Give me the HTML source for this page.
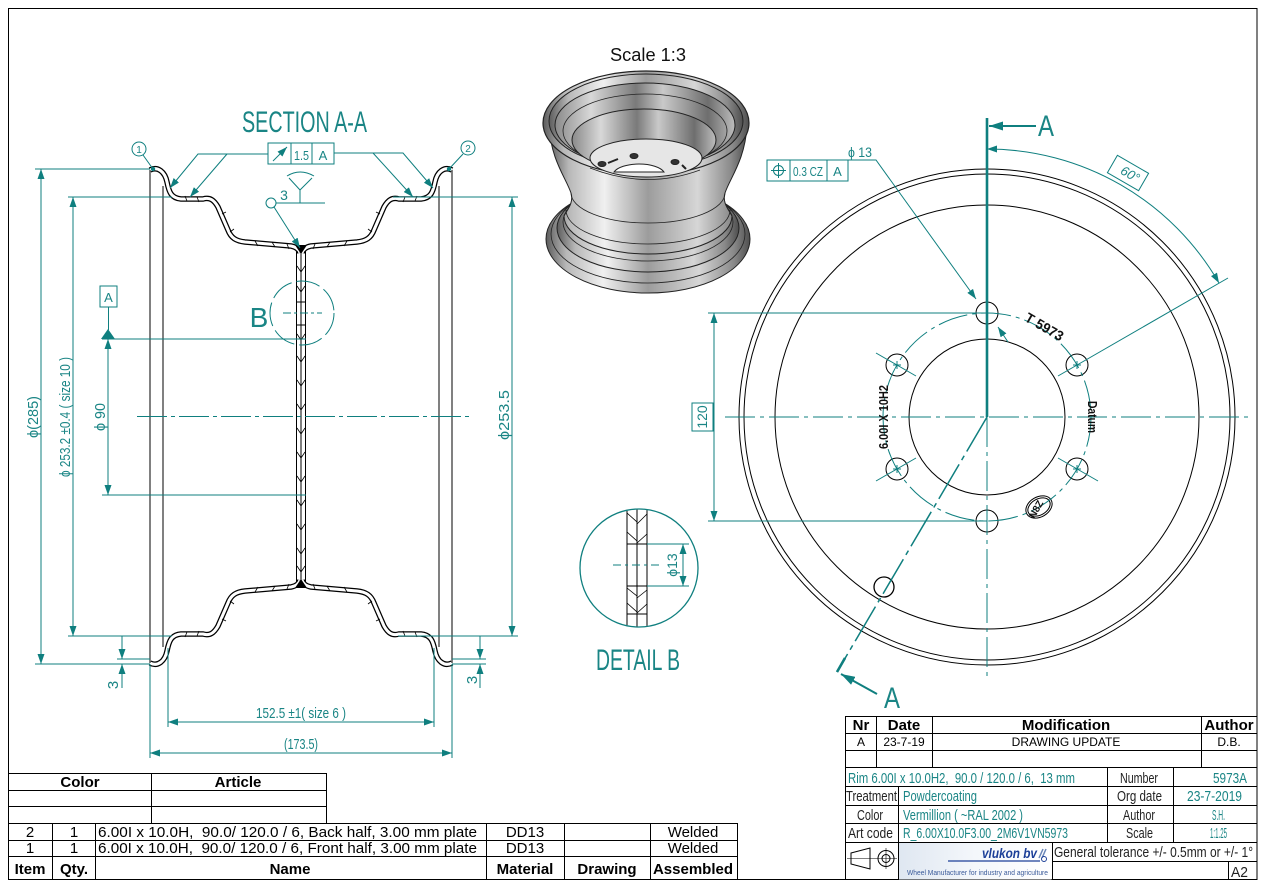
<!DOCTYPE html>
<html><head><meta charset="utf-8"><style>
html,body{margin:0;padding:0;background:#fff;}
svg{display:block;}
</style></head><body>
<svg width="1270" height="892" viewBox="0 0 1270 892" xmlns="http://www.w3.org/2000/svg" font-family="Liberation Sans, DejaVu Sans, sans-serif">
<defs>
<marker id="ar" viewBox="0 0 10 7" refX="10" refY="3.5" markerWidth="10" markerHeight="7" markerUnits="userSpaceOnUse" orient="auto-start-reverse"><path d="M0,0L10,3.5L0,7z" fill="#0f7f7f"/></marker>
<marker id="arB" viewBox="0 0 14 9" refX="14" refY="4.5" markerWidth="14" markerHeight="9" markerUnits="userSpaceOnUse" orient="auto-start-reverse"><path d="M0,0L14,4.5L0,9z" fill="#0f7f7f"/></marker>
<linearGradient id="met" x1="0" x2="1" y1="0" y2="0">
 <stop offset="0" stop-color="#5c5c5c"/><stop offset="0.1" stop-color="#b8b8b8"/><stop offset="0.28" stop-color="#f0f0f0"/><stop offset="0.5" stop-color="#9c9c9c"/><stop offset="0.75" stop-color="#d6d6d6"/><stop offset="0.92" stop-color="#8a8a8a"/><stop offset="1" stop-color="#4e4e4e"/>
</linearGradient>
<linearGradient id="inn" x1="0" x2="1" y1="0" y2="0">
 <stop offset="0" stop-color="#8a8a8a"/><stop offset="0.2" stop-color="#d8d8d8"/><stop offset="0.45" stop-color="#7a7a7a"/><stop offset="0.6" stop-color="#c9c9c9"/><stop offset="0.85" stop-color="#6e6e6e"/><stop offset="1" stop-color="#bdbdbd"/>
</linearGradient>
<linearGradient id="logo" x1="0" x2="1" y1="0" y2="0">
 <stop offset="0" stop-color="#dfe7f1"/><stop offset="0.5" stop-color="#f4f7fb"/><stop offset="1" stop-color="#ffffff"/>
</linearGradient>
<clipPath id="detc"><circle cx="639" cy="568" r="58.5"/></clipPath>
<path id="prof" d="M150,170 C158,166 165,172 167,182 C169,192 171,198 181,199 L203,199 C210,197 214,200 218,207 L228,230 C231,238 236,241 245,242 L291,246 C296,247 299,249 300,253" fill="none"/>
</defs>

<!-- frame -->
<rect x="8.5" y="8.5" width="1248.5" height="871" fill="none" stroke="#000" stroke-width="1"/>

<!-- ================= SECTION A-A ================= -->
<text x="242" y="132" font-size="30" fill="#1a8585" textLength="125" lengthAdjust="spacingAndGlyphs">SECTION A-A</text>

<!-- profiles -->
<g id="profg">
 <use href="#prof" stroke="#000" stroke-width="5.5"/>
 <use href="#prof" stroke="#fff" stroke-width="3"/>
</g>
<use href="#profg" transform="translate(602,0) scale(-1,1)"/>
<use href="#profg" transform="translate(0,833) scale(1,-1)"/>
<use href="#profg" transform="translate(602,833) scale(-1,-1)"/>

<g stroke="#000" stroke-width="1" fill="none">
 <line x1="150" y1="170" x2="150" y2="663"/>
 <line x1="163" y1="186" x2="163" y2="647"/>
 <line x1="439" y1="186" x2="439" y2="647"/>
 <line x1="452" y1="170" x2="452" y2="663"/>
 <line x1="296.5" y1="251" x2="296.5" y2="582"/>
 <line x1="301" y1="253" x2="301" y2="580"/>
 <line x1="305.5" y1="251" x2="305.5" y2="582"/>
 <line x1="296.5" y1="302" x2="305.5" y2="302"/>
 <line x1="296.5" y1="325" x2="305.5" y2="325"/>
 <path stroke-width="0.8" d="M297,266 L301,272 L305,266 M297,286 L301,292 L305,286 M297,334 L301,340 L305,334 M297,356 L301,362 L305,356 M297,380 L301,386 L305,380 M297,404 L301,410 L305,404 M297,428 L301,434 L305,428 M297,452 L301,458 L305,452 M297,476 L301,482 L305,476 M297,500 L301,506 L305,500 M297,524 L301,530 L305,524 M297,548 L301,554 L305,548 M297,566 L301,572 L305,566"/>
 <path stroke-width="0.8" d="M255,241 l3,5 M272,242 l3,5 M287,244 l2,5 M347,241 l-3,5 M330,242 l-3,5 M315,244 l-2,5 M222,214 l4,-2 M230,232 l4,-3 M185,196 l2,5 M197,197 l2,5 M417,196 l-2,5 M405,197 l-2,5 M380,214 l-4,-2 M372,232 l-4,-3 M255,592 l3,-5 M272,591 l3,-5 M287,589 l2,-5 M347,592 l-3,-5 M330,591 l-3,-5 M315,589 l-2,-5 M185,637 l2,-5 M197,636 l2,-5 M417,637 l-2,-5 M405,636 l-2,-5 M222,619 l4,2 M230,601 l4,3 M380,619 l-4,2 M372,601 l-4,3"/>
</g>
<polygon points="295,245 307,245 301,254" fill="#000"/>
<polygon points="295,588 307,588 301,579" fill="#000"/>

<!-- section dims -->
<g stroke="#0f7f7f" stroke-width="1" fill="none">
 <line x1="35" y1="169" x2="150" y2="169"/>
 <line x1="68" y1="197" x2="172" y2="197"/>
 <line x1="68" y1="636" x2="172" y2="636"/>
 <line x1="35" y1="664" x2="150" y2="664"/>
 <line x1="117" y1="659" x2="150" y2="659"/>
 <line x1="41" y1="169" x2="41" y2="664" marker-start="url(#ar)" marker-end="url(#ar)"/>
 <line x1="73" y1="197" x2="73" y2="636" marker-start="url(#ar)" marker-end="url(#ar)"/>
 <rect x="100" y="286" width="17" height="21"/>
 <line x1="108.5" y1="307" x2="108.5" y2="330"/>
 <line x1="108" y1="339" x2="108" y2="495" marker-start="url(#ar)" marker-end="url(#ar)"/>
 <line x1="102" y1="339" x2="306" y2="339"/>
 <line x1="102" y1="495" x2="306" y2="495"/>
 <line x1="393" y1="197" x2="518" y2="197"/>
 <line x1="398" y1="636" x2="518" y2="636"/>
 <line x1="512" y1="197" x2="512" y2="636" marker-start="url(#ar)" marker-end="url(#ar)"/>
 <line x1="122" y1="636" x2="122" y2="659" marker-end="url(#ar)"/>
 <line x1="122" y1="688" x2="122" y2="664" marker-end="url(#ar)"/>
 <line x1="452" y1="659" x2="486" y2="659"/>
 <line x1="452" y1="664" x2="486" y2="664"/>
 <line x1="480" y1="636" x2="480" y2="659" marker-end="url(#ar)"/>
 <line x1="480" y1="688" x2="480" y2="664" marker-end="url(#ar)"/>
 <line x1="168" y1="648" x2="168" y2="727"/>
 <line x1="434" y1="648" x2="434" y2="727"/>
 <line x1="168" y1="722" x2="434" y2="722" marker-start="url(#ar)" marker-end="url(#ar)"/>
 <line x1="150" y1="664" x2="150" y2="758"/>
 <line x1="452" y1="664" x2="452" y2="758"/>
 <line x1="150" y1="753" x2="452" y2="753" marker-start="url(#ar)" marker-end="url(#ar)"/>
 <line x1="137" y1="416.5" x2="470" y2="416.5" stroke-dasharray="30 4 4 4"/>
 <circle cx="302" cy="313" r="32" stroke-dasharray="24 5"/>
 <line x1="283" y1="313" x2="322" y2="313" stroke-dasharray="8 3 3 3"/>
 <!-- balloons -->
 <circle cx="139" cy="149" r="7"/>
 <line x1="143" y1="155" x2="153" y2="169"/>
 <circle cx="468" cy="148" r="7"/>
 <line x1="463" y1="154" x2="449" y2="169"/>
 <!-- FCF -->
 <rect x="268" y="143" width="66" height="21"/>
 <line x1="291" y1="143" x2="291" y2="164"/>
 <line x1="312" y1="143" x2="312" y2="164"/>
 <line x1="273" y1="161" x2="287" y2="147" marker-end="url(#ar)"/>
 <polyline points="268,154 198,154 170,188" marker-end="url(#ar)"/>
 <line x1="227" y1="154" x2="190" y2="197" marker-end="url(#ar)"/>
 <polyline points="334,153 403,153 433,188" marker-end="url(#ar)"/>
 <line x1="373" y1="153" x2="413" y2="197" marker-end="url(#ar)"/>
 <!-- weld -->
 <circle cx="271" cy="203" r="5"/>
 <line x1="276" y1="203" x2="325" y2="203"/>
 <polyline points="289,178 300,190 312,178"/>
 <line x1="300" y1="190" x2="300" y2="203"/>
 <path d="M287,176 Q300,168 314,176"/>
 <line x1="274" y1="207" x2="300" y2="248" marker-end="url(#ar)"/>
</g>
<circle cx="153" cy="169" r="2.2" fill="#0f7f7f"/>
<circle cx="449" cy="169" r="2.2" fill="#0f7f7f"/>
<polygon points="101,339 115,339 108,329" fill="#0f7f7f"/>

<g fill="#1a8585" font-size="15">
 <text x="139" y="153" font-size="10" text-anchor="middle">1</text>
 <text x="468" y="152" font-size="10" text-anchor="middle">2</text>
 <text x="301.5" y="160" font-size="13" text-anchor="middle" textLength="15" lengthAdjust="spacingAndGlyphs">1.5</text>
 <text x="323" y="160" font-size="13" text-anchor="middle">A</text>
 <text x="284" y="200" font-size="14" text-anchor="middle">3</text>
 <text x="108.5" y="302" font-size="13" text-anchor="middle">A</text>
 <text x="259" y="327" font-size="28" text-anchor="middle">B</text>
 <text transform="translate(38,417) rotate(-90)" text-anchor="middle" textLength="42" lengthAdjust="spacingAndGlyphs">ϕ(285)</text>
 <text transform="translate(70,417) rotate(-90)" text-anchor="middle" textLength="120" lengthAdjust="spacingAndGlyphs">ϕ 253.2 ±0.4 ( size 10 )</text>
 <text transform="translate(105,417) rotate(-90)" text-anchor="middle" textLength="28" lengthAdjust="spacingAndGlyphs">ϕ 90</text>
 <text transform="translate(509,415) rotate(-90)" text-anchor="middle" textLength="50" lengthAdjust="spacingAndGlyphs">ϕ253.5</text>
 <text transform="translate(118,685) rotate(-90)" text-anchor="middle">3</text>
 <text transform="translate(477,680) rotate(-90)" text-anchor="middle">3</text>
 <text x="301" y="718" text-anchor="middle" textLength="90" lengthAdjust="spacingAndGlyphs">152.5 ±1( size 6 )</text>
 <text x="301" y="749" text-anchor="middle" textLength="34" lengthAdjust="spacingAndGlyphs">(173.5)</text>
</g>

<!-- ================= 3D view ================= -->
<text x="648" y="61" font-size="18" text-anchor="middle" fill="#111" textLength="76" lengthAdjust="spacingAndGlyphs">Scale 1:3</text>
<g stroke="#222" stroke-width="1">
 <ellipse cx="648" cy="239" rx="102" ry="54" fill="url(#met)"/>
 <ellipse cx="648" cy="234" rx="97" ry="49" fill="none" stroke-width="0.8"/>
 <ellipse cx="648" cy="228" rx="91" ry="44" fill="url(#met)"/>
 <ellipse cx="648" cy="222" rx="85" ry="39" fill="none" stroke-width="0.8"/>
 <path d="M549,126 C551,160 566,178 571,193 C574,203 567,210 564,216 A84,38 0 0 0 732,216 C729,210 722,203 725,193 C730,178 745,160 747,126 Z" fill="url(#met)"/>
 <path d="M571,193 A77,30 0 0 0 725,193" fill="none" stroke-width="0.8"/>
 <path d="M566,210 A82,34 0 0 0 730,210" fill="none" stroke-width="0.8"/>
 <ellipse cx="646" cy="123" rx="103" ry="52" fill="url(#met)" stroke-width="1.2"/>
 <ellipse cx="646" cy="121" rx="97" ry="47" fill="url(#met)"/>
 <ellipse cx="645" cy="125" rx="90" ry="42" fill="url(#inn)"/>
 <ellipse cx="645" cy="131" rx="82" ry="37" fill="none" stroke-width="0.8"/>
 <ellipse cx="644" cy="140" rx="72" ry="31" fill="url(#inn)"/>
 <ellipse cx="646" cy="158" rx="56" ry="19" fill="#e6e6e6"/>
 <path d="M614,172 A26,11 0 0 1 664,172 Z" fill="#fff"/>
 <ellipse cx="602" cy="164" rx="4" ry="2.5" fill="#333"/>
 <ellipse cx="634" cy="156" rx="4" ry="2.5" fill="#333"/>
 <ellipse cx="675" cy="162" rx="4" ry="2.5" fill="#333"/>
 <path d="M608,163 l10,-4 M682,165 l4,4" stroke-width="2"/>
 <path d="M590,168 Q646,190 700,170" fill="none" stroke-width="0.8"/>
</g>

<!-- ================= DETAIL B ================= -->
<g clip-path="url(#detc)" stroke="#000" stroke-width="1" fill="none">
 <line x1="627" y1="500" x2="627" y2="640"/>
 <line x1="637" y1="500" x2="637" y2="640"/>
 <line x1="647" y1="500" x2="647" y2="640"/>
 <line x1="627" y1="544" x2="647" y2="544"/>
 <line x1="627" y1="586" x2="647" y2="586"/>
 <line x1="627" y1="614" x2="647" y2="614"/>
 <path stroke-width="0.8" d="M627,513 L637,522 M647,514 L637,524 M627,532 L637,541 M647,534 L637,543 M627,588 L637,596 M647,590 L637,598 M627,603 L637,612 M647,604 L637,613"/>
</g>
<g stroke="#0f7f7f" stroke-width="1" fill="none">
 <circle cx="639" cy="568" r="59" stroke-width="1.3"/>
 <line x1="647" y1="544" x2="689" y2="544"/>
 <line x1="647" y1="586" x2="689" y2="586"/>
 <line x1="683" y1="544" x2="683" y2="586" marker-start="url(#ar)" marker-end="url(#ar)"/>
 <line x1="613" y1="565" x2="661" y2="565" stroke-dasharray="8 4 3 4"/>
</g>
<text transform="translate(677,565) rotate(-90)" font-size="14" text-anchor="middle" fill="#1a8585">ϕ13</text>
<text x="638" y="670" font-size="30" text-anchor="middle" fill="#1a8585" textLength="84" lengthAdjust="spacingAndGlyphs">DETAIL B</text>

<!-- ================= FRONT VIEW ================= -->
<g stroke="#000" stroke-width="1" fill="none">
 <circle cx="987" cy="417" r="248"/>
 <circle cx="987" cy="417" r="243"/>
 <circle cx="987" cy="417" r="212"/>
 <circle cx="987" cy="417" r="78"/>
 <circle cx="987" cy="313" r="11"/>
 <circle cx="987" cy="521" r="11"/>
 <circle cx="897" cy="365" r="11"/>
 <circle cx="1077" cy="365" r="11"/>
 <circle cx="897" cy="469" r="11"/>
 <circle cx="1077" cy="469" r="11"/>
 <circle cx="884" cy="587" r="10" stroke-width="1.3"/>
 <g transform="translate(1039,507) rotate(-30)">
  <ellipse cx="0" cy="0" rx="14" ry="10"/>
  <ellipse cx="0" cy="0" rx="12" ry="8"/>
 </g>
</g>
<g stroke="#0f7f7f" stroke-width="1" fill="none">
 <circle cx="987" cy="417" r="104" stroke-dasharray="30 5 4 5"/>
 <line x1="725" y1="417" x2="1252" y2="417" stroke-dasharray="30 5 4 5"/>
 <line x1="987" y1="417" x2="987" y2="680" stroke-dasharray="30 5 4 5"/>
 <line x1="987" y1="118" x2="987" y2="417" stroke-width="2.6"/>
 <line x1="987" y1="417" x2="837" y2="672" stroke-width="1.5" stroke-dasharray="40 5 5 5"/>
 <line x1="845" y1="658" x2="837" y2="672" stroke-width="2.6"/>
 <line x1="1036" y1="126" x2="989" y2="126" stroke-width="2" marker-end="url(#arB)"/>
 <line x1="877" y1="694" x2="841" y2="674" stroke-width="2" marker-end="url(#arB)"/>
 <!-- hole crosses & radial lines -->
 <path d="M893,365 h8 M897,361 v8 M1073,365 h8 M1077,361 v8 M893,469 h8 M897,465 v8 M1073,469 h8 M1077,465 v8"/>
 <line x1="916" y1="376" x2="876" y2="353"/>
 <line x1="916" y1="458" x2="876" y2="481"/>
 <line x1="1058" y1="458" x2="1098" y2="481"/>
 <line x1="1058" y1="376" x2="1228" y2="278"/>
 <!-- 120 -->
 <line x1="708" y1="313" x2="987" y2="313"/>
 <line x1="708" y1="521" x2="987" y2="521"/>
 <line x1="714" y1="313" x2="714" y2="521" marker-start="url(#ar)" marker-end="url(#ar)"/>
 <rect x="692" y="403" width="21" height="28" fill="#fff"/>
 <!-- FCF -->
 <rect x="767" y="160" width="81" height="21"/>
 <line x1="790" y1="160" x2="790" y2="181"/>
 <line x1="827" y1="160" x2="827" y2="181"/>
 <circle cx="778.5" cy="170.5" r="5"/>
 <path d="M771,170.5 h15 M778.5,163 v15"/>
 <polyline points="848,160 876,160 976,299" marker-end="url(#ar)"/>
 <line x1="1008" y1="342" x2="998" y2="327" marker-end="url(#ar)"/>
 <!-- 60 deg -->
 <path d="M987,149 A268,268 0 0 1 1219,283" marker-start="url(#ar)" marker-end="url(#ar)"/>
 <g transform="translate(1128,173) rotate(30)"><rect x="-18" y="-10" width="36" height="20" fill="#fff"/></g>
</g>
<g fill="#1a8585">
 <text x="1046" y="136" font-size="30" text-anchor="middle" textLength="16" lengthAdjust="spacingAndGlyphs">A</text>
 <text x="892" y="708" font-size="30" text-anchor="middle" textLength="16" lengthAdjust="spacingAndGlyphs">A</text>
 <text transform="translate(707,417) rotate(-90)" font-size="14" text-anchor="middle">120</text>
 <text x="808" y="176" font-size="13" text-anchor="middle" textLength="30" lengthAdjust="spacingAndGlyphs">0.3 CZ</text>
 <text x="837.5" y="176" font-size="13" text-anchor="middle">A</text>
 <text x="860" y="157" font-size="14" text-anchor="middle" textLength="24" lengthAdjust="spacingAndGlyphs">ϕ 13</text>
 <text transform="translate(1128,178) rotate(30)" font-size="13" text-anchor="middle" font-style="italic">60°</text>
</g>
<g fill="#111" font-weight="bold">
 <text transform="translate(1042,331) rotate(30)" font-size="14" text-anchor="middle" textLength="42" lengthAdjust="spacingAndGlyphs">T 5973</text>
 <text transform="translate(888,417) rotate(-90)" font-size="13" text-anchor="middle" textLength="64" lengthAdjust="spacingAndGlyphs">6.00I X 10H2</text>
 <text transform="translate(1088,417) rotate(90)" font-size="13" text-anchor="middle" textLength="32" lengthAdjust="spacingAndGlyphs">Datum</text>
 <text transform="translate(1039,511) rotate(-60)" font-size="10" text-anchor="middle">N8Z</text>
</g>

<!-- ================= REVISION / TITLE BLOCK ================= -->
<g stroke="#000" stroke-width="1" fill="none">
 <rect x="898.5" y="842.5" width="153" height="37" fill="url(#logo)" stroke="none"/>
 <polyline points="845.5,880 845.5,716.5 1257,716.5"/>
 <line x1="845" y1="733.5" x2="1257" y2="733.5"/>
 <line x1="845" y1="750.5" x2="1257" y2="750.5"/>
 <line x1="845" y1="767.5" x2="1257" y2="767.5"/>
 <line x1="876.5" y1="716" x2="876.5" y2="767"/>
 <line x1="932.5" y1="716" x2="932.5" y2="767"/>
 <line x1="1201.5" y1="716" x2="1201.5" y2="767"/>
 <line x1="845" y1="786.5" x2="1257" y2="786.5"/>
 <line x1="845" y1="805.5" x2="1257" y2="805.5"/>
 <line x1="845" y1="823.5" x2="1257" y2="823.5"/>
 <line x1="845" y1="842.5" x2="1257" y2="842.5"/>
 <line x1="1052" y1="861.5" x2="1257" y2="861.5"/>
 <line x1="898.5" y1="786" x2="898.5" y2="880"/>
 <line x1="1107.5" y1="767" x2="1107.5" y2="842"/>
 <line x1="1173.5" y1="767" x2="1173.5" y2="842"/>
 <line x1="1052.5" y1="842" x2="1052.5" y2="880"/>
 <line x1="1228.5" y1="861" x2="1228.5" y2="880"/>
 <!-- projection symbol -->
 <polygon points="851,853 870,848 870,869 851,864"/>
 <circle cx="886" cy="858.5" r="8"/>
 <circle cx="886" cy="858.5" r="4"/>
 <path d="M847,858.5 h50 M886,848 v21" stroke-width="0.6"/>
</g>
<g font-size="15" font-weight="bold" fill="#000" text-anchor="middle">
 <text x="861" y="730">Nr</text>
 <text x="904" y="730">Date</text>
 <text x="1066" y="730">Modification</text>
 <text x="1229" y="730">Author</text>
</g>
<g font-size="12" fill="#000" text-anchor="middle">
 <text x="861" y="746">A</text>
 <text x="904" y="746">23-7-19</text>
 <text x="1066" y="746">DRAWING UPDATE</text>
 <text x="1229" y="746">D.B.</text>
</g>
<g font-size="15" fill="#1a8585" lengthAdjust="spacingAndGlyphs">
 <text x="848" y="783" textLength="227" lengthAdjust="spacingAndGlyphs" xml:space="preserve">Rim 6.00I x 10.0H2,  90.0 / 120.0 / 6,  13 mm</text>
 <text x="1213" y="783" textLength="34" lengthAdjust="spacingAndGlyphs">5973A</text>
 <text x="903" y="801" textLength="74" lengthAdjust="spacingAndGlyphs">Powdercoating</text>
 <text x="1187" y="801" textLength="55" lengthAdjust="spacingAndGlyphs">23-7-2019</text>
 <text x="903" y="820" textLength="120" lengthAdjust="spacingAndGlyphs">Vermillion ( ~RAL 2002 )</text>
 <text x="1212" y="820" textLength="13" lengthAdjust="spacingAndGlyphs">S.H.</text>
 <text x="903" y="838" textLength="165" lengthAdjust="spacingAndGlyphs">R_6.00X10.0F3.00_2M6V1VN5973</text>
 <text x="1210" y="838" textLength="17" lengthAdjust="spacingAndGlyphs">1:1.25</text>
</g>
<g font-size="15" fill="#222">
 <text x="1120" y="783" textLength="38" lengthAdjust="spacingAndGlyphs">Number</text>
 <text x="846" y="801" textLength="51" lengthAdjust="spacingAndGlyphs">Treatment</text>
 <text x="1117" y="801" textLength="45" lengthAdjust="spacingAndGlyphs">Org date</text>
 <text x="857" y="820" textLength="26" lengthAdjust="spacingAndGlyphs">Color</text>
 <text x="1123" y="820" textLength="32" lengthAdjust="spacingAndGlyphs">Author</text>
 <text x="848" y="838" textLength="45" lengthAdjust="spacingAndGlyphs">Art code</text>
 <text x="1126" y="838" textLength="27" lengthAdjust="spacingAndGlyphs">Scale</text>
 <text x="1054" y="857" textLength="199" lengthAdjust="spacingAndGlyphs">General tolerance +/- 0.5mm or +/- 1°</text>
 <text x="1231" y="877" textLength="17" lengthAdjust="spacingAndGlyphs">A2</text>
</g>
<!-- logo -->
<text x="982" y="858" font-size="14" font-weight="bold" font-style="italic" fill="#1c3f98" textLength="55" lengthAdjust="spacingAndGlyphs">vlukon bv</text>
<line x1="948" y1="861" x2="1040" y2="861" stroke="#1c3f98" stroke-width="1.2"/>
<path d="M1039,858 l4,-9 M1046,849 l-4,9" stroke="#6a86b8" stroke-width="1.5"/>
<circle cx="1044" cy="859" r="2.5" fill="none" stroke="#1c3f98"/>
<text x="907" y="875" font-size="7" fill="#3a5a9a" textLength="141" lengthAdjust="spacingAndGlyphs">Wheel Manufacturer for industry and agriculture</text>

<!-- ================= PARTS LIST ================= -->
<g stroke="#000" stroke-width="1" fill="none">
 <line x1="8" y1="773.5" x2="326.5" y2="773.5"/>
 <line x1="8" y1="790.5" x2="326.5" y2="790.5"/>
 <line x1="8" y1="806.5" x2="326.5" y2="806.5"/>
 <line x1="8" y1="823.5" x2="737.5" y2="823.5"/>
 <line x1="8" y1="840.5" x2="737.5" y2="840.5"/>
 <line x1="8" y1="856.5" x2="737.5" y2="856.5"/>
 <line x1="151.5" y1="773" x2="151.5" y2="823"/>
 <line x1="326.5" y1="773" x2="326.5" y2="823"/>
 <line x1="52.5" y1="823" x2="52.5" y2="880"/>
 <line x1="95.5" y1="823" x2="95.5" y2="880"/>
 <line x1="486.5" y1="823" x2="486.5" y2="880"/>
 <line x1="564.5" y1="823" x2="564.5" y2="880"/>
 <line x1="650.5" y1="823" x2="650.5" y2="880"/>
 <line x1="737.5" y1="823" x2="737.5" y2="880"/>
</g>
<g font-size="15" font-weight="bold" fill="#000" text-anchor="middle">
 <text x="80" y="787">Color</text>
 <text x="238" y="787">Article</text>
 <text x="30" y="874">Item</text>
 <text x="74" y="874">Qty.</text>
 <text x="290" y="874">Name</text>
 <text x="525" y="874">Material</text>
 <text x="607" y="874">Drawing</text>
 <text x="693" y="874">Assembled</text>
</g>
<g font-size="15" fill="#000">
 <text x="30" y="837" text-anchor="middle">2</text>
 <text x="74" y="837" text-anchor="middle">1</text>
 <text x="98" y="837" textLength="379" lengthAdjust="spacingAndGlyphs" xml:space="preserve">6.00I x 10.0H,  90.0/ 120.0 / 6, Back half, 3.00 mm plate</text>
 <text x="525" y="837" text-anchor="middle">DD13</text>
 <text x="693" y="837" text-anchor="middle">Welded</text>
 <text x="30" y="853" text-anchor="middle">1</text>
 <text x="74" y="853" text-anchor="middle">1</text>
 <text x="98" y="853" textLength="379" lengthAdjust="spacingAndGlyphs" xml:space="preserve">6.00I x 10.0H,  90.0/ 120.0 / 6, Front half, 3.00 mm plate</text>
 <text x="525" y="853" text-anchor="middle">DD13</text>
 <text x="693" y="853" text-anchor="middle">Welded</text>
</g>
</svg>
</body></html>
